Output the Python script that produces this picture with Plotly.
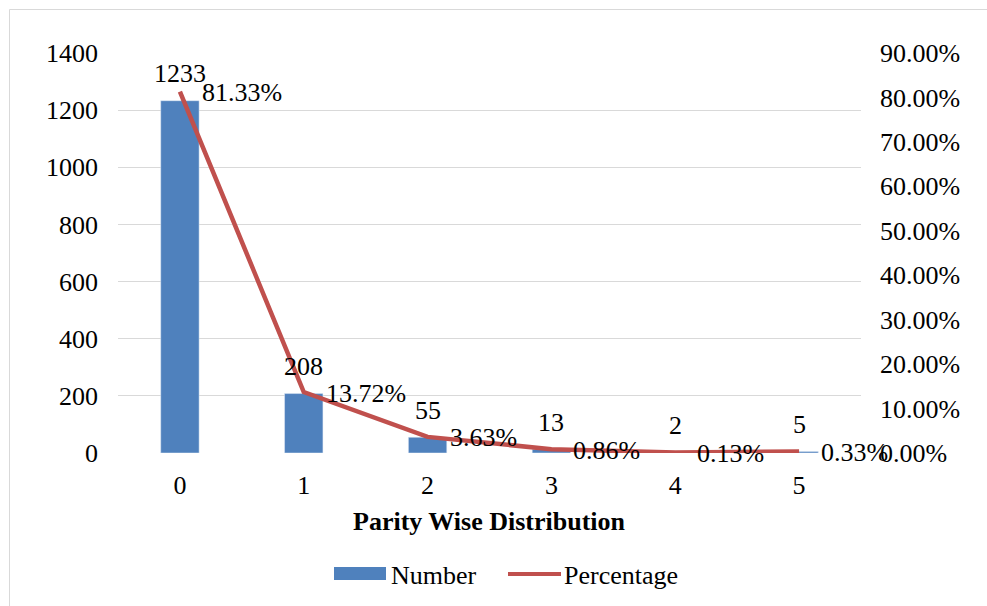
import plotly.graph_objects as go

# Parity wise distribution data
parity = [0, 1, 2, 3, 4, 5]
number = [1233, 208, 55, 13, 2, 5]
percentage = [81.33, 13.72, 3.63, 0.86, 0.13, 0.33]

left_ticks = [0, 200, 400, 600, 800, 1000, 1200, 1400]
right_ticks = [0, 10, 20, 30, 40, 50, 60, 70, 80, 90]

BAR_COLOR = "#4F81BD"
LINE_COLOR = "#C0504D"
FONT = "Liberation Serif"
FS = 26

W, H = 987, 606
L, R, T, B = 118, 126, 53, 153
PW, PH = W - L - R, H - T - B


def px(x):
    return (x - L) / PW


def py(y):
    return (H - B - y) / PH


fig = go.Figure()
fig.add_trace(go.Bar(
    x=parity, y=number, name="Number", marker_color=BAR_COLOR,
    width=0.31, showlegend=False,
))
fig.add_trace(go.Scatter(
    x=parity, y=percentage, name="Percentage", yaxis="y2", mode="lines",
    line=dict(color=LINE_COLOR, width=4.5), showlegend=False,
))

annotations = []
for x, v in zip(parity, number):
    annotations.append(dict(
        x=x, y=v, xref="x", yref="y", text=str(v), showarrow=False,
        xanchor="center", yanchor="middle", yshift=27,
        font=dict(family=FONT, size=FS, color="black"),
    ))
for x, p in zip(parity, percentage):
    annotations.append(dict(
        x=x, y=p, xref="x", yref="y2", text=f"{p:.2f}%", showarrow=False,
        xanchor="left", yanchor="middle", xshift=20, yshift=-1,
        font=dict(family=FONT, size=FS, color="black"),
    ))

# axis title
annotations.append(dict(
    x=0.5, y=py(521), xref="paper", yref="paper", showarrow=False,
    text="<b>Parity Wise Distribution</b>", xanchor="center", yanchor="middle",
    font=dict(family=FONT, size=FS, color="black"),
))

# legend entries
annotations.append(dict(
    x=px(389), y=py(575), xref="paper", yref="paper", showarrow=False,
    text="Number", xanchor="left", yanchor="middle",
    font=dict(family=FONT, size=FS, color="black"),
))
annotations.append(dict(
    x=px(562), y=py(575), xref="paper", yref="paper", showarrow=False,
    text="Percentage", xanchor="left", yanchor="middle",
    font=dict(family=FONT, size=FS, color="black"),
))

shapes = [
    dict(type="rect", xref="paper", yref="paper",
         x0=px(334), x1=px(386), y0=py(580), y1=py(567),
         fillcolor=BAR_COLOR, line=dict(width=0)),
    dict(type="line", xref="paper", yref="paper",
         x0=px(508), x1=px(561), y0=py(574), y1=py(574),
         line=dict(color=LINE_COLOR, width=4)),
    dict(type="rect", xref="paper", yref="paper",
         x0=px(9.5), x1=px(1010), y0=py(620), y1=py(9.5),
         line=dict(color="#D9D9D9", width=1), fillcolor="rgba(0,0,0,0)",
         layer="below"),
]

fig.update_layout(
    width=W, height=H,
    margin=dict(l=L, r=R, t=T, b=B, pad=0),
    paper_bgcolor="white", plot_bgcolor="white",
    font=dict(family=FONT, size=FS, color="black"),
    xaxis=dict(
        range=[-0.5, 5.5], tickmode="array", tickvals=parity,
        ticktext=[str(p) for p in parity], showgrid=False, zeroline=False,
        showline=False, ticks="", ticklabelstandoff=14,
    ),
    yaxis=dict(
        range=[0, 1400], tickmode="array", tickvals=left_ticks,
        showgrid=True, gridcolor="#D9D9D9", gridwidth=1, zeroline=False,
        showline=False, ticks="", ticklabelstandoff=19,
    ),
    yaxis2=dict(
        range=[0, 90], overlaying="y", side="right", tickmode="array",
        tickvals=right_ticks, ticktext=[f"{t:.2f}%" for t in right_ticks],
        showgrid=False, zeroline=False, showline=False, ticks="",
        ticklabelstandoff=18,
    ),
    annotations=annotations,
    shapes=shapes,
    showlegend=False,
)

fig.write_html("out.html")
